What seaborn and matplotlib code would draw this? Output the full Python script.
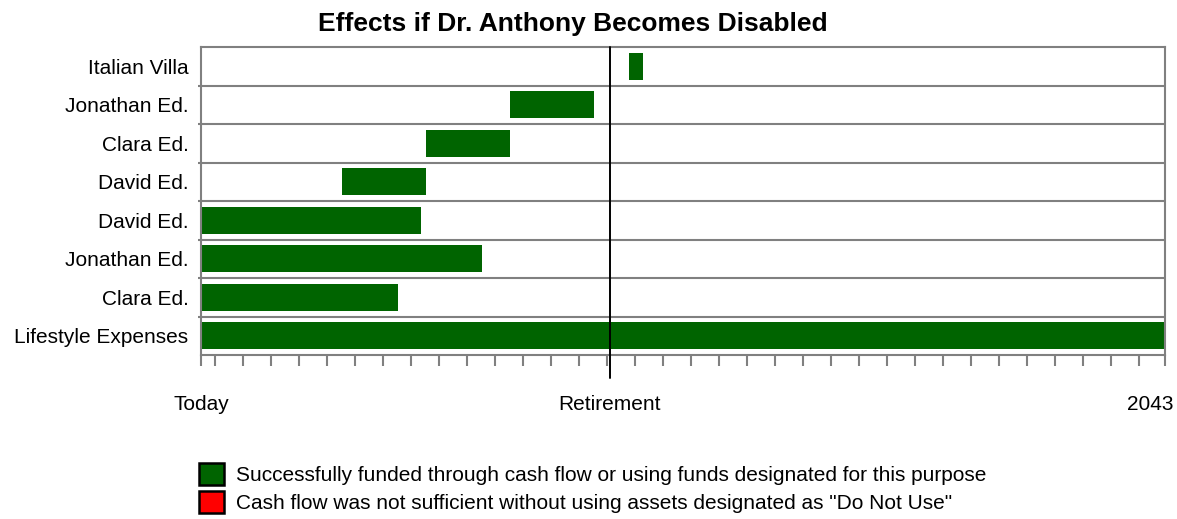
import matplotlib
matplotlib.use("Agg")
import matplotlib.pyplot as plt
from matplotlib.patches import Patch
import seaborn as sns
import numpy as np

# ---- data ----
categories = ["Italian Villa", "Jonathan Ed.", "Clara Ed.", "David Ed.",
              "David Ed.", "Jonathan Ed.", "Clara Ed.", "Lifestyle Expenses"]
start_years = [15.3, 11.05, 8.05, 5.05, 0.0, 0.0, 0.0, 0.0]      # years from today
end_years = [15.8, 14.05, 11.05, 8.05, 7.85, 10.05, 7.05, 34.43]
retirement_year = 14.6
horizon_end = 34.43
axis_labels = ["Today", "Retirement", "2043"]
legend_labels = ["Successfully funded through cash flow or using funds designated for this purpose",
                 'Cash flow was not sufficient without using assets designated as "Do Not Use"']
title = "Effects if Dr. Anthony Becomes Disabled"

GREEN = "#006400"
RED = "#ff0000"
GRAY = "#808080"

sns.set_theme(style="white")
plt.rcParams["font.family"] = ["Liberation Sans", "DejaVu Sans"]
plt.rcParams["text.color"] = "black"

W, H = 1177, 519
fig = plt.figure(figsize=(W / 100, H / 100), dpi=100)
ax = fig.add_axes([201 / W, 1 - 355 / H, (1165 - 201) / W, (355 - 47) / H])

rows = np.arange(len(categories))
widths = np.array(end_years) - np.array(start_years)
ax.barh(rows, widths, left=start_years, height=0.7, color=GREEN,
        edgecolor="none", linewidth=0, zorder=2)

ax.set_xlim(0, horizon_end)
ax.set_ylim(len(categories) - 0.5, -0.5)

# y axis
ax.set_yticks(rows, labels=categories)
ax.set_yticks(np.arange(len(categories) - 1) + 0.5, minor=True)
ax.tick_params(axis="y", which="major", length=0, pad=9, labelsize=15, labelcolor="black")
ax.tick_params(axis="y", which="minor", length=2, width=1.5, color=GRAY, direction="out", left=True)
ax.grid(which="minor", axis="y", color=GRAY, linewidth=1.5, zorder=1)

# x axis
ax.xaxis.remove_overlapping_locs = False
ax.set_xticks([0, retirement_year, 33.9], labels=axis_labels)
ax.set_xticks([0] + [0.5 + k for k in range(34)] + [horizon_end], minor=True)
ax.tick_params(axis="x", which="major", length=0, pad=29, labelsize=15, labelcolor="black")
ax.tick_params(axis="x", which="minor", length=8, width=1.5, color=GRAY, direction="out", bottom=True)

for s in ax.spines.values():
    s.set_visible(True)
    s.set_color(GRAY)
    s.set_linewidth(1.5)

ax.axvline(retirement_year, ymin=-23 / 308, ymax=1, color="black", linewidth=1.4,
           clip_on=False, zorder=3)

fig.text(573 / W, 1 - 24 / H, title, ha="center", va="center", fontsize=19,
         fontweight="bold", color="black")

handles = [Patch(facecolor=GREEN, edgecolor="black", linewidth=1.8),
           Patch(facecolor=RED, edgecolor="black", linewidth=1.8)]
leg = fig.legend(handles=handles, labels=legend_labels, loc="upper left",
                 bbox_to_anchor=(199 / W, 1 - 463 / H), frameon=False,
                 handlelength=1.2, handleheight=1.25, handletextpad=0.6,
                 labelspacing=0.3, borderpad=0, borderaxespad=0, fontsize=15)
for t in leg.get_texts():
    t.set_color("black")

fig.savefig("out.png", dpi=100)
